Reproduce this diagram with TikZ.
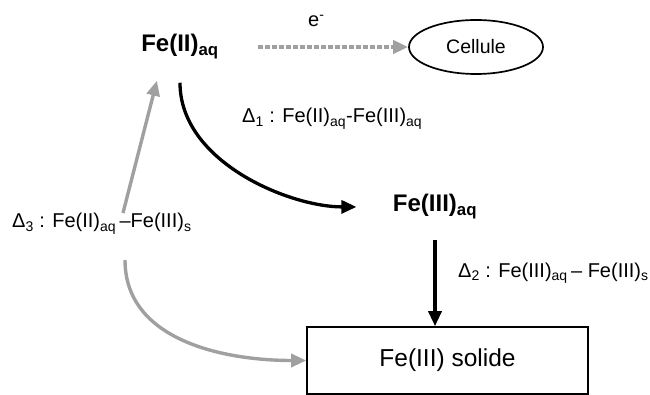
\documentclass[tikz,border=0pt]{standalone}
\usepackage{fontspec}
\setmainfont{Liberation Sans}
\usetikzlibrary{arrows.meta,shapes.geometric,calc}
\definecolor{flowgray}{RGB}{160,160,160}

\begin{document}
\begin{tikzpicture}[x=1pt,y=1pt,
  species/.style={font=\fontsize{24}{28}\selectfont\bfseries,anchor=base},
  lbl/.style={font=\fontsize{20}{24}\selectfont,anchor=base west,inner sep=0pt},
  blackarrow/.style={-{Triangle[length=15pt,width=13pt]},line width=3.3pt},
  grayarrow/.style={-{Triangle[length=15pt,width=13pt]},line width=3.4pt,flowgray}]
  \useasboundingbox (0,0) rectangle (650,-395);
  \node[species] (feII) at (180,-52) {Fe(II)\textsubscript{aq}};
  \node[species] (feIII) at (435,-212) {Fe(III)\textsubscript{aq}};
  \node[ellipse,draw,line width=1.7pt,minimum width=134pt,minimum height=54pt,
    font=\fontsize{19.5}{22}\selectfont] (cell) at (476,-47) {Cellule};
  \node[draw,line width=1.6pt,minimum width=281pt,minimum height=67pt,
    font=\fontsize{24.5}{28}\selectfont] (solide) at (447.5,-360.5) {Fe(III) solide};
  \node[lbl] (elec) at (308,-27) {e\textsuperscript{-}};
  \node[lbl] (d1) at (242,-123) {Δ\textsubscript{1} : Fe(II)\textsubscript{aq}-Fe(III)\textsubscript{aq}};
  \node[lbl] (d2) at (458,-277) {Δ\textsubscript{2} : Fe(III)\textsubscript{aq}\,– Fe(III)\textsubscript{s}};
  \node[lbl] (d3) at (12,-228) {Δ\textsubscript{3} : Fe(II)\textsubscript{aq}\,–Fe(III)\textsubscript{s}};
  \coordinate (upfoot) at (123,-213);
  \coordinate (curvefoot) at (125,-260);
  \draw[grayarrow,line width=3.8pt,dash pattern=on 4.5pt off 2.5pt,shorten <=36pt] (feII.east |- cell.west) -- (cell.west);
  \draw[blackarrow,shorten <=20pt,shorten >=33pt] (feII.south) to[out=-90,in=180] (feIII.west);
  \draw[blackarrow,shorten <=17pt] (feIII.south) -- (feIII.south |- solide.north);
  \draw[grayarrow,shorten >=18.6pt] (upfoot) -- ([xshift=-18.5pt]feII.south);
  \draw[grayarrow] (curvefoot) to[out=-90,in=180] (solide.west);
\end{tikzpicture}
\end{document}
